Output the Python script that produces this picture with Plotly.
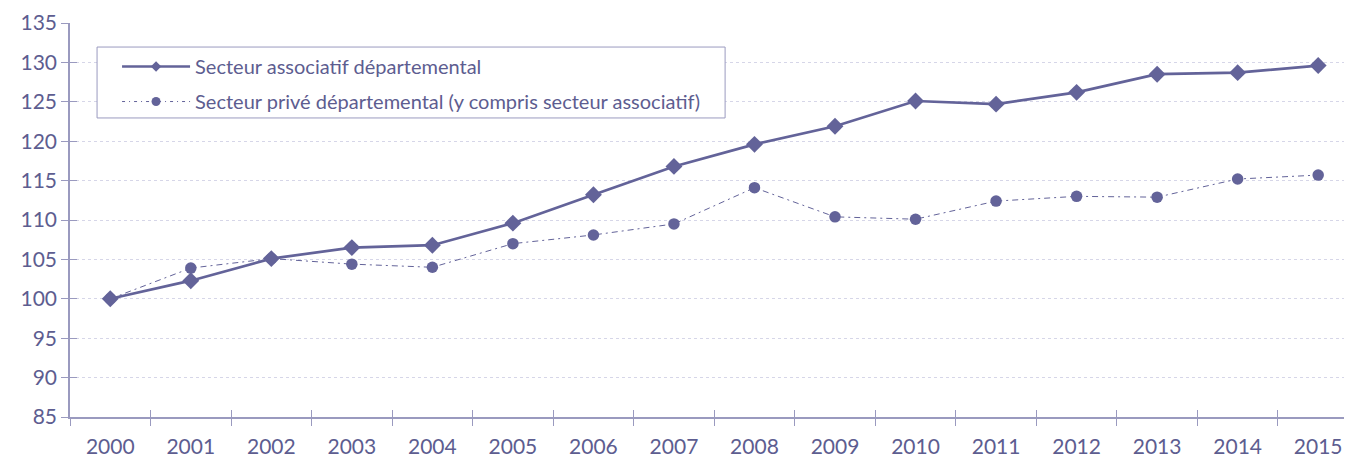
import plotly.graph_objects as go

years = [str(y) for y in range(2000, 2016)]
associatif = [100, 102.3, 105.1, 106.5, 106.8, 109.6, 113.2, 116.8, 119.6, 121.9,
              125.1, 124.7, 126.2, 128.5, 128.7, 129.6]
prive = [100, 103.9, 105.1, 104.4, 104.0, 107.0, 108.1, 109.5, 114.1, 110.4,
         110.1, 112.4, 113.0, 112.9, 115.2, 115.7]
name1 = "Secteur associatif départemental"
name2 = "Secteur privé départemental (y compris secteur associatif)"

LINE = "#636399"
AXIS = "#9a9abf"
TXT = "#5d5d90"
GRID = "#d6d6e8"
FONT = "Lato"
DASH = "6px,4px,2px,4px"

fig = go.Figure()
fig.add_trace(go.Scatter(x=years, y=associatif, name=name1, mode="lines+markers",
                         showlegend=False,
                         line=dict(color=LINE, width=2.7),
                         marker=dict(symbol="diamond", size=13, color=LINE)))
fig.add_trace(go.Scatter(x=years, y=prive, name=name2, mode="lines+markers",
                         showlegend=False,
                         line=dict(color=LINE, width=1, dash=DASH),
                         marker=dict(symbol="circle", size=11.5, color=LINE)))
# legend entries (smaller symbols, as in the reference legend)
fig.add_trace(go.Scatter(x=[None], y=[None], name=name1, mode="lines+markers",
                         legendgroup="a", line=dict(color=LINE, width=2.5),
                         marker=dict(symbol="diamond", size=8, color=LINE)))
fig.add_trace(go.Scatter(x=[None], y=[None], name=name2, mode="lines+markers",
                         legendgroup="b", line=dict(color=LINE, width=1, dash="3px,4px,1px,4px"),
                         marker=dict(symbol="circle", size=9, color=LINE)))
# invisible trace to carry the overlay axes (inside half of crossing ticks)
fig.add_trace(go.Scatter(x=years, y=prive, xaxis="x2", yaxis="y2", mode="markers",
                         marker=dict(opacity=0), showlegend=False, hoverinfo="skip"))

xr = [-0.5, 15.42]
yr = [85, 135]
fig.update_layout(
    # page body has an 8px margin: figure is 8px smaller to fill the window
    width=1344, height=449,
    margin=dict(l=62, r=0, t=15, b=40),
    paper_bgcolor="white", plot_bgcolor="white",
    font=dict(family=FONT, size=20, color=TXT),
    showlegend=True,
    legend=dict(x=0.0367, y=0.939, xanchor="left", yanchor="top",
                borderwidth=0, bgcolor="rgba(0,0,0,0)",
                font=dict(family=FONT, size=20, color=TXT),
                itemwidth=68, traceorder="grouped", tracegroupgap=6),
    shapes=[dict(type="rect", xref="paper", yref="paper",
                 x0=0.0211, x1=0.511, y0=0.759, y1=0.939,
                 line=dict(color=AXIS, width=1), fillcolor="white", layer="above")],
    xaxis=dict(type="category", categoryorder="array", categoryarray=years,
               range=xr, tickson="boundaries", ticks="outside", ticklen=7,
               tickcolor=AXIS, showline=True, linecolor=AXIS, linewidth=1.5,
               showgrid=False, zeroline=False, automargin=False,
               ticklabelstandoff=10, tickfont=dict(size=21, color=TXT)),
    yaxis=dict(range=yr, dtick=5, ticks="outside", ticklen=7, tickcolor=AXIS,
               showline=True, linecolor=AXIS, linewidth=1.5, automargin=False,
               showgrid=True, gridcolor=GRID, griddash="dot", gridwidth=1,
               zeroline=False, tickfont=dict(size=21, color=TXT)),
    xaxis2=dict(type="category", categoryorder="array", categoryarray=years,
                overlaying="x", anchor="y2", side="bottom", range=xr,
                tickson="boundaries", ticks="inside", ticklen=7, tickcolor=AXIS,
                showticklabels=False, showgrid=False, showline=False, zeroline=False),
    yaxis2=dict(overlaying="y", anchor="x2", side="left", range=yr, dtick=5,
                ticks="inside", ticklen=7, tickcolor=AXIS, showticklabels=False,
                showgrid=False, showline=False, zeroline=False),
)
fig.write_html("out.html")
